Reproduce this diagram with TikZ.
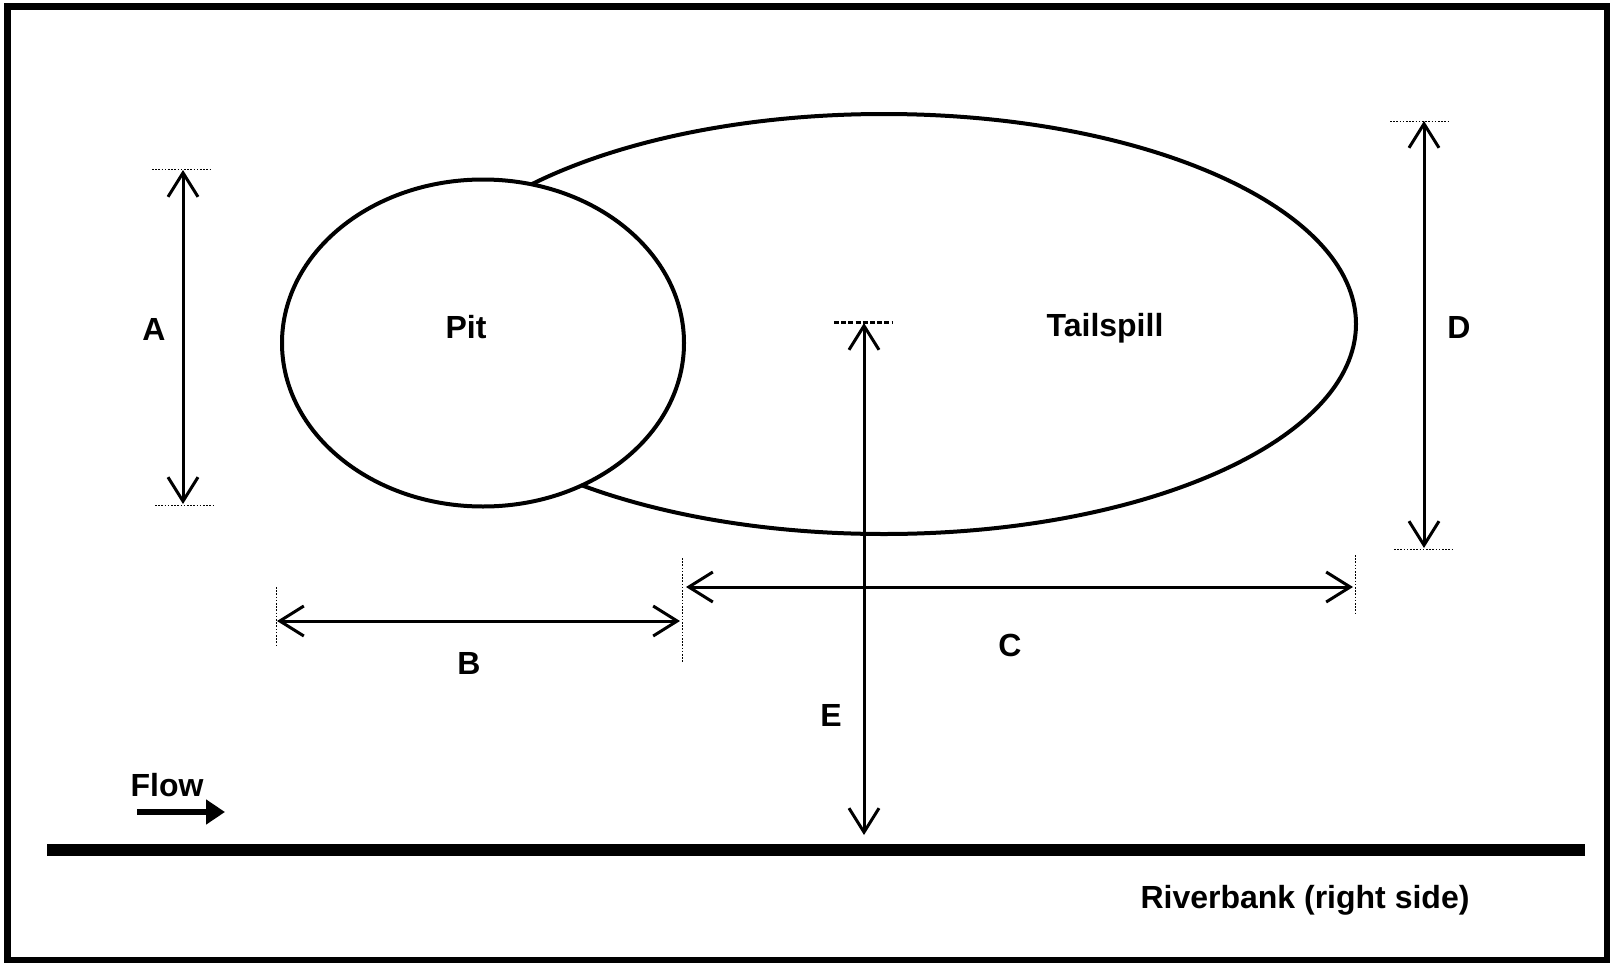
\documentclass[tikz,border=0pt]{standalone}
\usepackage{fontspec}
\setmainfont{Liberation Sans}
\usetikzlibrary{shapes.geometric,arrows.meta}
\begin{document}
\begin{tikzpicture}[x=1pt,y=-1pt,
  lbl/.style={font=\fontsize{32}{35}\selectfont\bfseries, inner sep=0pt},
  dimarrow/.style={line width=3pt, {Straight Barb[length=24pt,width=30pt]}-{Straight Barb[length=24pt,width=30pt]}},
  guide/.style={line width=1pt, dash pattern=on 1.6pt off 1.6pt},
  guidebold/.style={line width=3pt, dash pattern=on 5pt off 2.2pt},
  shapeline/.style={draw, ellipse, line width=4pt, inner sep=0pt, fill=white}
]
\useasboundingbox (0,0) rectangle (1612,964);
\draw[line width=6.5pt] (7.5,6.5) rectangle (1607,960);

% ellipses
\node[shapeline, minimum width=944, minimum height=420] (tail) at (884,324) {};
\node[shapeline, minimum width=402, minimum height=327] (pit) at (483,343) {};

% labels
\node[lbl] (lA) at (154,329) {A};
\node[lbl] (lPit) at (466,327) {Pit};
\node[lbl] (lTail) at (1105,328) {Tailspill};
\node[lbl] (lD) at (1459,327) {D};
\node[lbl] (lB) at (469,663) {B};
\node[lbl] (lC) at (1010,645) {C};
\node[lbl] (lE) at (831,715) {E};
\node[lbl] (lFlow) at (167,785) {Flow};
\node[lbl] (lRiver) at (1305,900) {Riverbank (right side)};

% coordinates
\coordinate (A1) at (183,170);
\coordinate (A2) at (183,504);
\coordinate (D1) at (1424,121);
\coordinate (D2) at (1424,548);
\coordinate (B1) at (277,621);
\coordinate (B2) at (680,621);
\coordinate (C1) at (686,587);
\coordinate (C2) at (1353,587);
\coordinate (E1) at (864,323);
\coordinate (E2) at (864,835);

% guide lines
\coordinate (gA1s) at (152,169); \coordinate (gA1e) at (212,169);
\coordinate (gA2s) at (155,505); \coordinate (gA2e) at (215,505);
\coordinate (gD1s) at (1390,121); \coordinate (gD1e) at (1450,121);
\coordinate (gD2s) at (1394,549); \coordinate (gD2e) at (1454,549);
\coordinate (gB1s) at (276,587); \coordinate (gB1e) at (276,647);
\coordinate (gB2s) at (682,558); \coordinate (gB2e) at (682,662);
\coordinate (gC2s) at (1355,555); \coordinate (gC2e) at (1355,614);
\coordinate (gEs) at (834,322); \coordinate (gEe) at (893,322);
\draw[guide] (gA1s) -- (gA1e);
\draw[guide] (gA2s) -- (gA2e);
\draw[guide] (gD1s) -- (gD1e);
\draw[guide] (gD2s) -- (gD2e);
\draw[guide] (gB1s) -- (gB1e);
\draw[guide] (gB2s) -- (gB2e);
\draw[guide] (gC2s) -- (gC2e);
\draw[guidebold] (gEs) -- (gEe);

% dimension arrows
\draw[dimarrow] (A1) -- (A2);
\draw[dimarrow] (D1) -- (D2);
\draw[dimarrow] (B1) -- (B2);
\draw[dimarrow] (C1) -- (C2);
\draw[dimarrow] (E1) -- (E2);

% riverbank
\coordinate (R1) at (47,850);
\coordinate (R2) at (1585,850);
\draw[line width=12pt] (R1) -- (R2);

% flow arrow
\coordinate (F1) at (137,812);
\coordinate (F2) at (225,812);
\draw[line width=6pt, -{Triangle[length=19pt,width=24pt]}] (F1) -- (F2);
\end{tikzpicture}
\end{document}
